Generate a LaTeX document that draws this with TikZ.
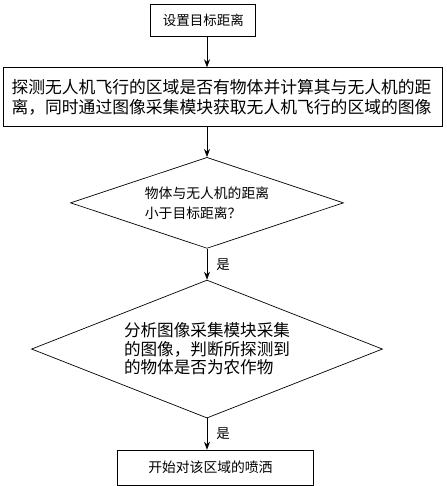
\documentclass[tikz,border=0pt]{standalone}
\usepackage{fontspec}
\setmainfont{Noto Sans CJK SC}
\usetikzlibrary{positioning}
\usetikzlibrary{shapes.geometric}
\usetikzlibrary{arrows.meta}

\tikzset{
  box/.style={draw,rectangle,line width=0.7pt,inner sep=0pt},
  decision/.style={draw,diamond,line width=0.7pt,inner sep=0pt,align=left},
  yes/.style={right=9pt,inner sep=0pt,font=\fontsize{13.5}{16}\selectfont}
}

\begin{document}
\begin{tikzpicture}[x=1pt,y=-1pt,>={Stealth[length=8pt,width=6pt]}]
  \useasboundingbox (0,0) rectangle (446,486);
  \node[box,minimum width=105pt,minimum height=32.7pt,font=\fontsize{13.5}{18}\selectfont]
    (set) at (203.3,20.3) {设置目标距离};
  \node[box,below=30.3pt of set,xshift=19.2pt,minimum width=439pt,minimum height=59pt,
    text width=422pt,align=left,font=\fontsize{16.8}{20}\selectfont]
    (detect) {探测无人机飞行的区域是否有物体并计算其与无人机的距\\离，同时通过图像采集模块获取无人机飞行的区域的图像};
  \node[decision,below=30pt of detect,xshift=-15.5pt,minimum width=273pt,minimum height=91pt,
    aspect=3,font=\fontsize{13.8}{20}\selectfont]
    (near) {物体与无人机的距离\\小于目标距离？};
  \node[decision,below=31pt of near,minimum width=351pt,minimum height=138pt,
    aspect=2.54,font=\fontsize{16.6}{18.5}\selectfont]
    (crop) {分析图像采集模块采集\\的图像，判断所探测到\\的物体是否为农作物};
  \node[box,below=31.3pt of crop,xshift=8.3pt,minimum width=196pt,minimum height=35pt,
    text width=134pt,inner xsep=31pt,align=left,font=\fontsize{13.8}{18}\selectfont]
    (spray) {开始对该区域的喷洒};
  \coordinate (axis) at (207,0);
  \path[->,line width=0.7pt]
    (set.south -| axis) edge (detect.north -| axis)
    (detect.south -| axis) edge (near.north)
    (near.south) edge node[yes] {是} (crop.north)
    (crop.south) edge node[yes] {是} (spray.north -| axis);
\end{tikzpicture}
\end{document}
